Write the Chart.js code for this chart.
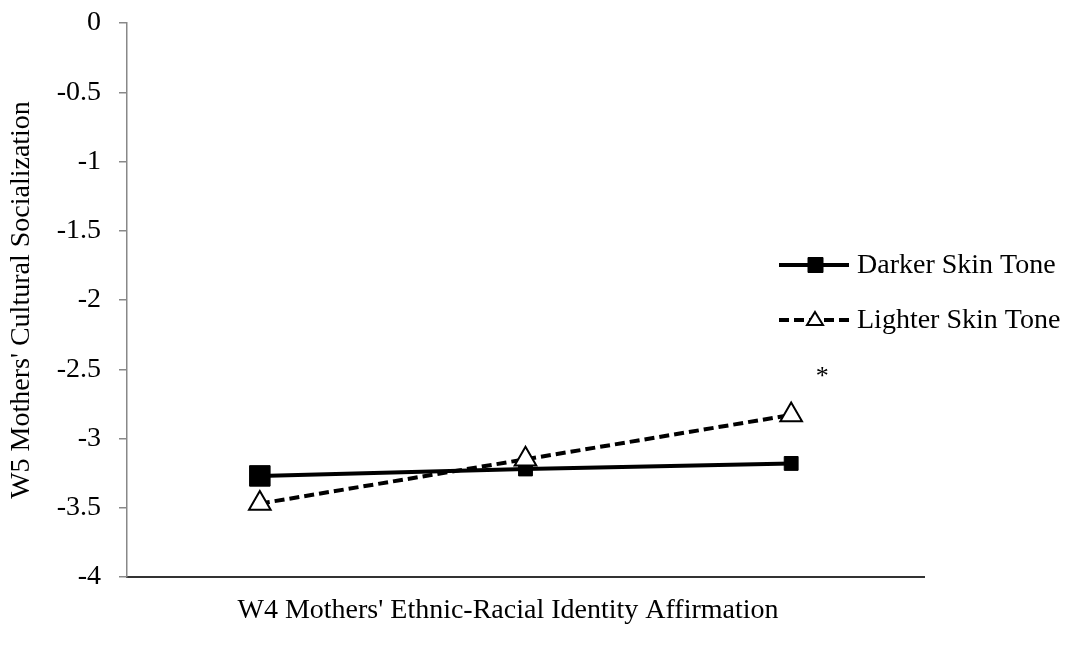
<!DOCTYPE html>
<html>
<head>
<meta charset="utf-8">
<script src="https://cdn.jsdelivr.net/npm/chart.js@4/dist/chart.umd.min.js"></script>
<style>
  html, body { margin: 0; padding: 0; background: #fff; }
  #wrap { width: 1074px; height: 647px; }
</style>
</head>
<body>
<div id="wrap"><canvas id="lineChart"></canvas></div>
<script>
// data
var categories = ['Low', 'Mean', 'High'];
var darkerValues = [-3.27, -3.22, -3.18];
var lighterValues = [-3.47, -3.15, -2.83];
var lighterMarks = ['', '', '*'];
var yMin = -4, yMax = 0, yStep = 0.5;

var serif = "'Liberation Serif', 'Times New Roman', serif";
var fontSize = 28;

// legend + annotations drawn by hand so the line samples look like the original
var extras = {
	id: 'extras',
	afterDraw: function(chart) {
		var ctx = chart.ctx;
		var xs = chart.scales.x, ys = chart.scales.y;
		ctx.save();
		ctx.fillStyle = '#000';
		ctx.font = '26px ' + serif;
		ctx.textAlign = 'center';
		ctx.textBaseline = 'middle';
		lighterMarks.forEach(function(m, i) {
			if (!m) return;
			ctx.fillText(m, xs.getPixelForValue(i) + 31, ys.getPixelForValue(lighterValues[i] + 0.27));
		});

		// x axis title
		ctx.font = fontSize + 'px ' + serif;
		ctx.fillText("W4 Mothers' Ethnic-Racial Identity Affirmation", 508, 611);

		// legend
		var rows = [
			{ ds: chart.data.datasets[0], y: 265 },
			{ ds: chart.data.datasets[1], y: 320 }
		];
		rows.forEach(function(r) {
			ctx.save();
			ctx.strokeStyle = '#000';
			ctx.lineWidth = 4;
			ctx.setLineDash(r.ds.borderDash || []);
			ctx.beginPath();
			ctx.moveTo(779, r.y);
			ctx.lineTo(849, r.y);
			ctx.stroke();
			ctx.restore();
			ctx.fillStyle = r.ds.pointBackgroundColor;
			ctx.strokeStyle = '#000';
			ctx.lineWidth = r.ds.pointBorderWidth;
			ctx.beginPath();
			if (r.ds.pointStyle == 'rect') {
				ctx.rect(808, r.y - 7.5, 15, 15);
			} else {
				ctx.moveTo(815, r.y - 8);
				ctx.lineTo(823, r.y + 5);
				ctx.lineTo(807, r.y + 5);
				ctx.closePath();
			}
			ctx.fill();
			ctx.stroke();
			ctx.fillStyle = '#000';
			ctx.textAlign = 'left';
			ctx.font = fontSize + 'px ' + serif;
			ctx.fillText(r.ds.label, 857, r.y + 1);
		});
		ctx.restore();
	}
};

var ctx = document.getElementById('lineChart').getContext('2d');
var lineChart = new Chart(ctx, {
	type: 'line',
	data: {
		labels: categories,
		datasets: [{
			label: 'Darker Skin Tone',
			data: darkerValues,
			borderColor: '#000',
			borderWidth: 4,
			pointStyle: 'rect',
			pointRadius: [14.5, 9.8, 9.8],
			pointBackgroundColor: '#000',
			pointBorderColor: '#000',
			pointBorderWidth: 1,
			order: 1
		}, {
			label: 'Lighter Skin Tone',
			data: lighterValues,
			borderColor: '#000',
			borderWidth: 4,
			borderDash: [10, 5],
			pointStyle: 'triangle',
			pointRadius: 12.5,
			pointBackgroundColor: '#fff',
			pointBorderColor: '#000',
			pointBorderWidth: 2,
			order: 0
		}]
	},
	options: {
		responsive: true,
		maintainAspectRatio: false,
		animation: false,
		layout: { padding: { top: 23, right: 150, left: 0, bottom: 0 } },
		plugins: {
			legend: { display: false },
			tooltip: { enabled: false }
		},
		scales: {
			x: {
				offset: true,
				grid: { display: false },
				border: { display: true, color: '#333', width: 2 },
				ticks: { display: false },
				afterFit: function(scale) { scale.height = 70; }
			},
			y: {
				min: yMin,
				max: yMax,
				ticks: {
					stepSize: yStep,
					color: '#000',
					padding: 18,
					font: { family: serif, size: fontSize },
					callback: function(v) { return String(v); }
				},
				grid: { drawOnChartArea: false, drawTicks: true, tickLength: 8, color: '#888', lineWidth: 1.5 },
				border: { display: true, color: '#888', width: 1.5 },
				title: {
					display: true,
					text: "W5 Mothers' Cultural Socialization",
					color: '#000',
					font: { family: serif, size: fontSize },
					padding: { top: 5, bottom: 0 }
				},
				afterFit: function(scale) {
					scale.width = 127;
					scale.paddingTop = 0;
					scale.paddingBottom = 0;
				}
			}
		}
	},
	plugins: [extras]
});
</script>
</body>
</html>
